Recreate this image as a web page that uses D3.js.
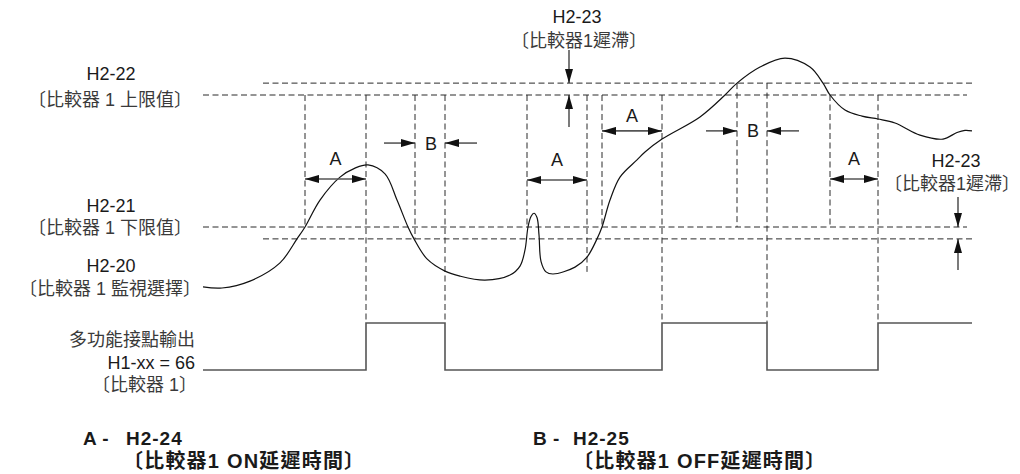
<!DOCTYPE html>
<html>
<head>
<meta charset="utf-8">
<script src="https://cdn.jsdelivr.net/npm/d3@7"></script>
<style>
  html, body { margin: 0; padding: 0; background: #fff; }
  svg { display: block; }
  text { font-family: "Liberation Sans", Arial, "Noto Sans CJK TC", sans-serif; fill: #1a1a1a; }
  text.cjk { fill: #3a3a3a; }
</style>
</head>
<body>
<svg id="chart" width="1020" height="474"></svg>
<script>
// ---------------- data ----------------
const LOWER = 30;           // H2-21 lower limit
const UPPER = 80;           // H2-22 upper limit
const HYST = 4.5;           // H2-23 hysteresis
const timeDomain = [0, 76.9];

// monitored analog signal (H2-20)
const signalT = [0, 1.9, 4.7, 7.7, 9.4, 10.2, 11.7, 13.7, 15.2, 16.5, 18.2, 19.4, 20.5, 21.1, 22.4, 24.2, 25.7, 28.2, 30.7, 31.7, 32.2, 32.5, 32.8, 33.1, 33.4, 33.6, 33.8, 34.3, 35.0, 37.2, 38.4, 39.4, 39.9, 40.7, 41.7, 43.4, 44.2, 45.9, 49.7, 52.2, 53.4, 55.7, 58.2, 60.7, 62.0, 62.7, 64.2, 65.9, 67.5, 69.2, 71.7, 74.0, 75.4, 76.2, 76.9];
const signalV = [7.3, 6.9, 9.5, 16.4, 25.5, 30, 40.2, 48.9, 52.3, 53.5, 50.1, 40.2, 30, 25.5, 17.9, 13.3, 11.4, 9.9, 11.8, 15.2, 21.3, 30, 34.0, 35.2, 33.6, 27.0, 17.0, 13.0, 12.2, 14.8, 18.6, 25.5, 30, 40.2, 48.9, 55.4, 58.4, 63.3, 71.7, 80, 84.5, 90.6, 94.0, 90.6, 84.5, 80, 74.3, 72.0, 70.9, 69.4, 64.8, 63.3, 65.8, 66.6, 66.4];

// comparator output (H1-xx = 66)
const outputT = [0, 16.3, 24.2, 45.9, 56.4, 67.5, 76.9];
const outputState = [0, 1, 0, 1, 0, 1, 1];

// dashed guide lines at event times
const eventT =      [10.2, 16.3, 21.2, 24.2, 32.4, 38.4, 39.9, 45.9, 53.4, 56.4, 62.7, 67.5];
const eventTop =    ["U", "U", "U", "U", "U", "U", "U", "U", "UH", "UH", "U", "U"];
const eventBottom = ["L", "OUT", "LH", "OUT", "L", "LOW", "L", "OUT", "L", "OUT", "L", "OUT"];

// delay annotations A (ON delay, H2-24) / B (OFF delay, H2-25)
const delayLabel = ["A", "B", "A", "A", "B", "A"];
const delayStart = [10.2, 21.2, 32.4, 39.9, 53.4, 62.7];
const delayEnd   = [16.3, 24.2, 38.4, 45.9, 56.4, 67.5];
const delayLevel = [48.2, 61.8, 47.8, 66.4, 66.4, 48.2];

// hysteresis indicators (H2-23)
const hystT = [36.6, 75.5];
const hystOuterTop = [97.0, 41.4];
const hystOuterBottom = [67.9, 13.7];
const hystRef = ["U", "L"];

// ---------------- scales ----------------
const svg = d3.select("#chart");
const x = d3.scaleLinear().domain(timeDomain).range([203, 972]);
const y = d3.scaleLinear().domain([LOWER, UPPER]).range([227, 95]);
const yOut = d3.scaleLinear().domain([0, 1]).range([370, 323]);

const levelVal = { U: UPPER, UH: UPPER + HYST, L: LOWER, LH: LOWER - HYST, LOW: 13 };
const levelY = k => k === "OUT" ? yOut(1) : y(levelVal[k]);

const DASH = "6,3.5";
const dashColor = "#2a2a2a";

// arrow marker
const defs = svg.append("defs");
defs.append("marker")
  .attr("id", "ah").attr("viewBox", "0 0 14 8")
  .attr("refX", 14).attr("refY", 4)
  .attr("markerWidth", 14).attr("markerHeight", 8)
  .attr("markerUnits", "userSpaceOnUse")
  .attr("orient", "auto-start-reverse")
  .append("path").attr("d", "M0,0L14,4L0,8Z").attr("fill", "#111");

// ---------------- threshold lines ----------------
const hLines = [
  { v: UPPER + HYST, t0: 6.0, t1: 76.9 },
  { v: UPPER, t0: 0, t1: 76.4 },
  { v: LOWER, t0: 0, t1: 76.4 },
  { v: LOWER - HYST, t0: 6.0, t1: 76.9 }
];
svg.append("g").selectAll("line").data(hLines).join("line")
  .attr("x1", d => x(d.t0)).attr("x2", d => x(d.t1))
  .attr("y1", d => y(d.v)).attr("y2", d => y(d.v))
  .attr("stroke", dashColor).attr("stroke-width", 1).attr("stroke-dasharray", DASH);

// vertical event lines
svg.append("g").selectAll("line").data(eventT).join("line")
  .attr("x1", d => x(d)).attr("x2", d => x(d))
  .attr("y1", (d, i) => levelY(eventTop[i]))
  .attr("y2", (d, i) => levelY(eventBottom[i]))
  .attr("stroke", dashColor).attr("stroke-width", 1).attr("stroke-dasharray", DASH);

// ---------------- signal curve ----------------
const sig = signalT.map((t, i) => [t, signalV[i]]);
svg.append("path")
  .attr("d", d3.line().x(d => x(d[0])).y(d => y(d[1])).curve(d3.curveCatmullRom.alpha(0.5))(sig))
  .attr("fill", "none").attr("stroke", "#111").attr("stroke-width", 1.2);

// ---------------- output ----------------
const out = outputT.map((t, i) => [t, outputState[i]]);
svg.append("path")
  .attr("d", d3.line().x(d => x(d[0])).y(d => yOut(d[1])).curve(d3.curveStepAfter)(out))
  .attr("fill", "none").attr("stroke", "#555").attr("stroke-width", 1.6);

// ---------------- delay annotations ----------------
const gA = svg.append("g");
delayLabel.forEach((lab, i) => {
  const yy = y(delayLevel[i]);
  const xs = x(delayStart[i]), xe = x(delayEnd[i]);
  if (lab === "A") {
    gA.append("line").attr("x1", xs).attr("x2", xe).attr("y1", yy).attr("y2", yy)
      .attr("stroke", "#555").attr("stroke-width", 1.6)
      .attr("marker-start", "url(#ah)").attr("marker-end", "url(#ah)");
    gA.append("text").attr("x", (xs + xe) / 2).attr("y", yy - (i === 3 ? 9 : 14))
      .attr("text-anchor", "middle").attr("font-size", 18).text("A");
  } else {
    gA.append("line").attr("x1", xs - 31).attr("x2", xs).attr("y1", yy).attr("y2", yy)
      .attr("stroke", "#222").attr("stroke-width", 1.2).attr("marker-end", "url(#ah)");
    gA.append("line").attr("x1", xe + 32).attr("x2", xe).attr("y1", yy).attr("y2", yy)
      .attr("stroke", "#222").attr("stroke-width", 1.2).attr("marker-end", "url(#ah)");
    gA.append("text").attr("x", (xs + xe) / 2 + 1).attr("y", yy + 6.5)
      .attr("text-anchor", "middle").attr("font-size", 18).text("B");
  }
});

// hysteresis arrows
hystT.forEach((t, i) => {
  const xx = x(t);
  const ref = hystRef[i];
  const yTopLine = ref === "U" ? y(UPPER + HYST) : y(LOWER);
  const yBotLine = ref === "U" ? y(UPPER) : y(LOWER - HYST);
  svg.append("line").attr("x1", xx).attr("x2", xx)
    .attr("y1", y(hystOuterTop[i])).attr("y2", yTopLine)
    .attr("stroke", "#222").attr("stroke-width", 1.2).attr("marker-end", "url(#ah)");
  svg.append("line").attr("x1", xx).attr("x2", xx)
    .attr("y1", y(hystOuterBottom[i])).attr("y2", yBotLine)
    .attr("stroke", "#222").attr("stroke-width", 1.2).attr("marker-end", "url(#ah)");
});

// ---------------- labels ----------------
const labels = [
  { t: "H2-22", x: 111, y: 80, a: "middle", s: 18 },
  { t: "〔比較器 1 上限值〕", x: 110, y: 106, a: "middle", s: 18, c: 1 },
  { t: "H2-21", x: 111, y: 212, a: "middle", s: 18 },
  { t: "〔比較器 1 下限值〕", x: 110, y: 234, a: "middle", s: 18, c: 1 },
  { t: "H2-20", x: 111, y: 272, a: "middle", s: 18 },
  { t: "〔比較器 1 監視選擇〕", x: 110, y: 295, a: "middle", s: 18, c: 1 },
  { t: "H2-23", x: 577, y: 23, a: "middle", s: 18 },
  { t: "〔比較器1遲滯〕", x: 579, y: 47, a: "middle", s: 18, c: 1 },
  { t: "H2-23", x: 956, y: 167, a: "middle", s: 18 },
  { t: "〔比較器1遲滯〕", x: 952, y: 190, a: "middle", s: 18, c: 1 },
  { t: "多功能接點輸出", x: 195, y: 346, a: "end", s: 18, c: 1 },
  { t: "H1-xx = 66", x: 195, y: 369, a: "end", s: 18 },
  { t: "〔比較器 1〕", x: 197, y: 391, a: "end", s: 18, c: 1 }
];
svg.append("g").selectAll("text").data(labels).join("text")
  .attr("class", d => d.c ? "cjk" : null)
  .attr("x", d => d.x).attr("y", d => d.y)
  .attr("text-anchor", d => d.a).attr("font-size", d => d.s)
  .text(d => d.t);

// legend (bold)
const legend = [
  { t: "A -", x: 83, y: 445, s: 19, ls: 0.5 },
  { t: "H2-24", x: 126, y: 445, s: 19, ls: 1 },
  { t: "〔比較器1 ON延遲時間〕", x: 123, y: 468, s: 20, ls: 1.2 },
  { t: "B -", x: 533, y: 445, s: 19, ls: 0.5 },
  { t: "H2-25", x: 573, y: 445, s: 19, ls: 1 },
  { t: "〔比較器1 OFF延遲時間〕", x: 573, y: 468, s: 20, ls: 1.2 }
];
svg.append("g").selectAll("text").data(legend).join("text")
  .attr("x", d => d.x).attr("y", d => d.y)
  .attr("font-size", d => d.s).attr("font-weight", "bold")
  .attr("letter-spacing", d => d.ls)
  .text(d => d.t);
</script>
</body>
</html>
